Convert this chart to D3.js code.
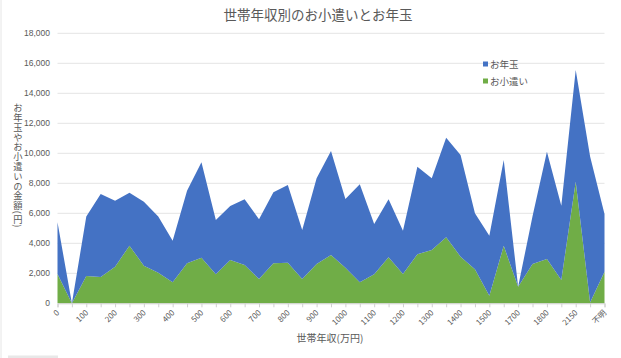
<!DOCTYPE html>
<html><head><meta charset="utf-8">
<script src="https://cdn.jsdelivr.net/npm/d3@7"></script>
<style>
html,body{margin:0;padding:0;background:#fff;}
#wrap{position:relative;width:621px;height:358px;}
svg{display:block;font-family:"Noto Sans CJK JP","Noto Sans",sans-serif;}
#ytitle{position:absolute;left:13px;top:103px;writing-mode:vertical-rl;text-orientation:mixed;
  font-family:"Noto Sans CJK JP",sans-serif;font-size:9.3px;letter-spacing:0.5px;line-height:10px;color:#595959;white-space:nowrap;}
</style></head>
<body><div id="wrap"><svg id="c" width="621" height="358"></svg></div>
<script>
const categories = ["0","50","100","150","200","250","300","350","400","450","500","550","600","650","700","750","800","850","900","950","1000","1050","1100","1150","1200","1250","1300","1350","1400","1450","1500","1600","1700","1750","1800","2000","2150","2500","不明"];
const okozukai = [1950,0,1820,1760,2440,3840,2500,2040,1400,2670,3040,1930,2890,2550,1620,2670,2710,1620,2620,3220,2370,1400,1930,3070,1950,3270,3550,4400,3110,2270,510,3830,1100,2620,2950,1550,8110,50,2110];
const otoshidama = [3450,0,3960,5530,4400,3530,4270,3740,2770,4840,6360,3620,3600,4380,3980,4730,5180,3270,5710,6930,4580,6530,3360,3860,2890,5840,4780,6640,6780,3730,4000,5720,10,3180,7160,4960,7440,9730,3840];
const yTicks = [0,2000,4000,6000,8000,10000,12000,14000,16000,18000];
const seriesNames = ["お小遣い","お年玉"];
const colors = {"お小遣い":"#70AD47","お年玉":"#4472C4"};
const title = "世帯年収別のお小遣いとお年玉";
const xTitle = "世帯年収(万円)";
const yTitle = "お年玉やお小遣いの金額(円)";

const svg = d3.select("#c");
const L = 57.5, R = 604.5, T = 33.3, B = 303.3;
const x = d3.scalePoint().domain(categories).range([L, R]);
const y = d3.scaleLinear().domain([0, 18000]).range([B, T]);

// chart frame bits
svg.append("line").attr("x1",1).attr("x2",1).attr("y1",0).attr("y2",358).attr("stroke","#e6e6e6");
svg.append("rect").attr("x",8).attr("y",355.5).attr("width",50).attr("height",3).attr("fill","#e8e8e8");

// title
svg.append("text").attr("x",318).attr("y",20).attr("text-anchor","middle")
  .attr("font-size",13.5).attr("fill","#595959").text(title);

// gridlines
svg.append("g").selectAll("line").data(yTicks.slice(1)).join("line")
  .attr("x1",L).attr("x2",R).attr("y1",d=>y(d)).attr("y2",d=>y(d))
  .attr("stroke","#e4e4e4").attr("stroke-width",1);

// y tick labels
svg.append("g").selectAll("text").data(yTicks).join("text")
  .attr("x",50).attr("y",d=>y(d)+3).attr("text-anchor","end")
  .attr("font-size",8.5).attr("fill","#595959").attr("font-family","Liberation Sans, Arial, sans-serif")
  .text(d=>d3.format(",")(d));

// stacked areas
const table = categories.map((c,i)=>({cat:c,"お小遣い":okozukai[i],"お年玉":otoshidama[i]}));
const stack = d3.stack().keys(seriesNames)(table);
const area = d3.area().x(d=>x(d.data.cat)).y0(d=>y(d[0])).y1(d=>y(d[1]));
svg.append("g").selectAll("path").data(stack).join("path")
  .attr("d",area).attr("fill",d=>colors[d.key]);

// x axis
const xAxis = d3.axisBottom(x).tickSize(4).tickFormat((d,i)=> i%2===0 ? d : "");
const gx = svg.append("g").attr("transform",`translate(0,${B})`).call(xAxis);
gx.select(".domain").attr("stroke","#d0d0d0");
gx.selectAll(".tick line").attr("stroke","#d0d0d0");
gx.selectAll(".tick text").attr("font-size",8).attr("fill","#595959")
  .attr("font-family","Noto Sans CJK JP, sans-serif")
  .attr("text-anchor","end").attr("dy",0).attr("y",0)
  .attr("transform","translate(2,10) rotate(-45)");

// axis titles
svg.append("text").attr("x",330).attr("y",342).attr("text-anchor","middle")
  .attr("font-size",10).attr("fill","#595959").text(xTitle);
d3.select("#wrap").append("div").attr("id","ytitle").text(yTitle);

// legend
const lg = svg.append("g");
const legItems = ["お年玉","お小遣い"];
legItems.forEach((k,i)=>{
  const yy = 65 + i*17;
  lg.append("rect").attr("x",483).attr("y",yy-3.5).attr("width",5).attr("height",5).attr("fill",colors[k]);
  lg.append("text").attr("x",490).attr("y",yy+3).attr("font-size",9.5).attr("fill","#595959").text(k);
});
</script></body></html>
